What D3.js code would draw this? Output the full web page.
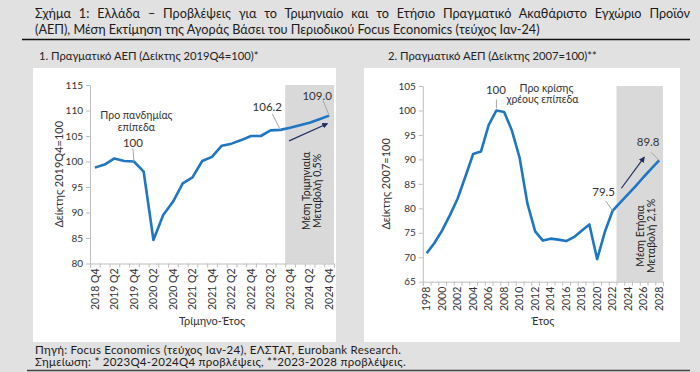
<!DOCTYPE html>
<html>
<head>
<meta charset="utf-8">
<script src="https://cdn.jsdelivr.net/npm/d3@7"></script>
<style>
  html, body { margin: 0; padding: 0; background: #e1e1e1; }
  svg { display: block; font-family: Lato, "Noto Sans", sans-serif; }
</style>
</head>
<body>
<div id="chart"></div>
<script>
// quarterly real GDP, index 2019Q4=100 (2023Q4-2024Q4 forecasts)
const quarters = ["2018 Q4", "2019 Q1", "2019 Q2", "2019 Q3", "2019 Q4", "2020 Q1", "2020 Q2", "2020 Q3",
  "2020 Q4", "2021 Q1", "2021 Q2", "2021 Q3", "2021 Q4", "2022 Q1", "2022 Q2", "2022 Q3", "2022 Q4",
  "2023 Q1", "2023 Q2", "2023 Q3", "2023 Q4", "2024 Q1", "2024 Q2", "2024 Q3", "2024 Q4"];
const quarterlyGdp = [98.8, 99.4, 100.6, 100.1, 100.0, 98.0, 84.6, 89.5, 92.1, 95.7, 96.9, 100.1, 100.9,
  103.1, 103.5, 104.2, 105.0, 105.0, 106.1, 106.2, 106.6, 107.1, 107.6, 108.3, 109.0];
const quarterTicks = [80, 85, 90, 95, 100, 105, 110, 115];

// annual real GDP, index 2007=100 (2023-2028 forecasts)
const years = ["1998", "1999", "2000", "2001", "2002", "2003", "2004", "2005", "2006", "2007", "2008",
  "2009", "2010", "2011", "2012", "2013", "2014", "2015", "2016", "2017", "2018", "2019", "2020",
  "2021", "2022", "2023", "2024", "2025", "2026", "2027", "2028"];
const annualGdp = [70.8, 72.9, 75.5, 78.6, 82.0, 86.5, 91.1, 91.6, 97.0, 100.0, 99.7, 95.9, 90.3, 81.0,
  75.3, 73.4, 73.8, 73.6, 73.3, 74.1, 75.4, 76.7, 69.6, 75.2, 79.5, 81.2, 82.9, 84.6, 86.4, 88.1, 89.8];
const yearTicks = [65, 70, 75, 80, 85, 90, 95, 100, 105];

const titleLines = [
  "Σχήμα 1: Ελλάδα – Προβλέψεις για το Τριμηνιαίο και το Ετήσιο Πραγματικό Ακαθάριστο Εγχώριο Προϊόν",
  "(ΑΕΠ), Μέση Εκτίμηση της Αγοράς Βάσει του Περιοδικού Focus Economics (τεύχος Ιαν-24)"
];
const notes = [
  "Πηγή: Focus Economics (τεύχος Ιαν-24), ΕΛΣΤΑΤ, Eurobank Research.",
  "Σημείωση: * 2023Q4-2024Q4 προβλέψεις, **2023-2028 προβλέψεις."
];

const lineColor = "#1f77c4";
const arrowColor = "#1f2f5f";
const leaderColor = "#a6a6a6";
const textColor = "#333";

const svg = d3.select("#chart").append("svg")
  .attr("width", 700)
  .attr("height", 372);

svg.append("rect").attr("width", 700).attr("height", 372).attr("fill", "#e1e1e1");

const defs = svg.append("defs");
defs.append("marker")
  .attr("id", "head")
  .attr("viewBox", "0 0 10 10")
  .attr("refX", 8).attr("refY", 5)
  .attr("markerWidth", 5).attr("markerHeight", 5)
  .attr("orient", "auto")
  .append("path")
  .attr("d", "M0,0 L10,5 L0,10 z")
  .attr("fill", arrowColor);

// title: second line sets the size, first line is justified to the full width
const t2 = svg.append("text")
  .attr("x", 35).attr("y", 34)
  .attr("font-size", 13).attr("fill", "#1a1a1a")
  .text(titleLines[1]);
const titleSize = 13 * 505 / t2.node().getComputedTextLength();
t2.attr("font-size", titleSize);
const t1 = svg.append("text")
  .attr("x", 35).attr("y", 18)
  .attr("font-size", titleSize).attr("fill", "#1a1a1a")
  .text(titleLines[0]);
const gaps = titleLines[0].split(" ").length - 1;
t1.style("word-spacing", ((655 - t1.node().getComputedTextLength()) / gaps) + "px");
svg.append("line")
  .attr("x1", 22).attr("x2", 690).attr("y1", 39.5).attr("y2", 39.5)
  .attr("stroke", "#111").attr("stroke-width", 1.4);

// notes
notes.forEach((n, i) => {
  svg.append("text")
    .attr("x", 35).attr("y", 354 + i * 12)
    .attr("font-size", 11.5).attr("fill", "#1a1a1a")
    .style("letter-spacing", "0.25px")
    .text(n);
});
svg.append("line")
  .attr("x1", 27).attr("x2", 690).attr("y1", 370.5).attr("y2", 370.5)
  .attr("stroke", "#444").attr("stroke-width", 1.5);

function drawChart(cfg) {
  const g = svg.append("g");

  g.append("text")
    .attr("x", cfg.subX).attr("y", 60)
    .attr("font-size", 11.2).attr("fill", "#222")
    .text(cfg.subtitle);

  g.append("rect")
    .attr("x", cfg.panel[0]).attr("y", 68)
    .attr("width", cfg.panel[1] - cfg.panel[0]).attr("height", 274)
    .attr("fill", "#fff");

  const x = d3.scaleBand()
    .domain(cfg.labels)
    .range([cfg.left, cfg.right])
    .padding(0);

  const y = d3.scaleLinear()
    .domain(d3.extent(cfg.ticks))
    .range([cfg.bottom, cfg.top]);

  const cx = d => x(d) + x.bandwidth() / 2;

  // forecast shading
  g.append("rect")
    .attr("x", x(cfg.shadeFrom))
    .attr("y", y(cfg.ticks[cfg.ticks.length - 1]))
    .attr("width", cfg.right - x(cfg.shadeFrom))
    .attr("height", y(cfg.ticks[0]) - y(cfg.ticks[cfg.ticks.length - 1]))
    .attr("fill", "#d9d9d9");

  // y axis
  const yAxis = g.append("g")
    .attr("transform", `translate(${cfg.left},0)`)
    .call(d3.axisLeft(y).tickValues(cfg.ticks).tickSize(4).tickSizeOuter(0).tickPadding(3));
  yAxis.selectAll("line, path").attr("stroke", "#bfbfbf");
  yAxis.selectAll("text").attr("font-size", 10).attr("fill", textColor)
    .attr("font-family", "Lato, sans-serif");

  // x axis: tick marks on category boundaries
  const xb = d3.scaleLinear().domain([0, cfg.labels.length]).range([cfg.left, cfg.right]);
  const xTicks = g.append("g")
    .attr("transform", `translate(0,${cfg.bottom})`)
    .call(d3.axisBottom(xb).tickValues(d3.range(0, cfg.labels.length + 1)).tickSize(4).tickFormat(""));
  xTicks.selectAll("line, path").attr("stroke", "#bfbfbf");

  const xAxis = g.append("g")
    .attr("transform", `translate(0,${cfg.bottom})`)
    .call(d3.axisBottom(x).tickValues(cfg.labels.filter((d, i) => i % 2 === 0)).tickSize(0));
  xAxis.select(".domain").remove();
  xAxis.selectAll("text")
    .attr("transform", "rotate(-90)")
    .attr("x", -5).attr("y", 0).attr("dy", "0.35em")
    .style("text-anchor", "end")
    .attr("font-size", 10.5).attr("fill", textColor)
    .attr("font-family", "Lato, sans-serif");

  // axis titles
  g.append("text")
    .attr("x", (cfg.left + cfg.right) / 2).attr("y", 325)
    .attr("text-anchor", "middle")
    .attr("font-size", 11).attr("fill", textColor)
    .text(cfg.xTitle);
  g.append("text")
    .attr("transform", `translate(${cfg.yTitleX},${(cfg.top + cfg.bottom) / 2}) rotate(-90)`)
    .attr("text-anchor", "middle").attr("dy", "0.35em")
    .attr("font-size", 11).attr("fill", textColor)
    .text(cfg.yTitle);

  // series
  g.append("path")
    .datum(cfg.values)
    .attr("fill", "none")
    .attr("stroke", lineColor)
    .attr("stroke-width", 2.6)
    .attr("stroke-linejoin", "round")
    .attr("d", d3.line().x((d, i) => cx(cfg.labels[i])).y(d => y(d)));

  return { g, x, y, cx };
}

function leader(g, x1, y1, x2, y2) {
  g.append("line")
    .attr("x1", x1).attr("y1", y1).attr("x2", x2).attr("y2", y2)
    .attr("stroke", leaderColor).attr("stroke-width", 1);
}

function label(g, x, y, txt, size) {
  g.append("text")
    .attr("x", x).attr("y", y).attr("dy", "0.35em")
    .attr("text-anchor", "middle")
    .attr("font-size", size).attr("fill", textColor)
    .text(txt);
}

function arrow(g, x1, y1, x2, y2) {
  g.append("line")
    .attr("x1", x1).attr("y1", y1).attr("x2", x2).attr("y2", y2)
    .attr("stroke", arrowColor).attr("stroke-width", 1.2)
    .attr("marker-end", "url(#head)");
}

function rotatedNote(g, x, y, lines) {
  const t = g.append("text")
    .attr("transform", `translate(${x},${y}) rotate(-90)`)
    .attr("text-anchor", "middle")
    .attr("font-size", 10.5).attr("fill", "#222");
  lines.forEach((l, i) => {
    t.append("tspan").attr("x", 0).attr("dy", i === 0 ? "-0.15em" : "1.1em").text(l);
  });
}

// chart 1
const c1 = drawChart({
  panel: [33, 336],
  subtitle: "1. Πραγματικό ΑΕΠ (Δείκτης 2019Q4=100)*",
  subX: 39,
  labels: quarters,
  values: quarterlyGdp,
  ticks: quarterTicks,
  left: 90, right: 334, top: 85, bottom: 263.5,
  shadeFrom: "2023 Q4",
  xTitle: "Τρίμηνο-Έτος",
  yTitle: "Δείκτης 2019Q4=100",
  yTitleX: 59
});

{
  const p = [c1.cx("2019 Q4"), c1.y(quarterlyGdp[4])];
  leader(c1.g, p[0] - 1, p[1] - 13, p[0], p[1]);
  label(c1.g, p[0] - 1, p[1] - 19, "100", 11.5);
  label(c1.g, p[0] + 2.5, p[1] - 46, "Προ πανδημίας", 10.5);
  label(c1.g, p[0] + 2.5, p[1] - 34, "επίπεδα", 10.5);

  const q = [c1.cx("2023 Q3"), c1.y(quarterlyGdp[19])];
  leader(c1.g, q[0] - 8, q[1] - 16, q[0], q[1]);
  label(c1.g, q[0] - 13, q[1] - 22.5, "106.2", 11.5);

  const r = [c1.cx("2024 Q4"), c1.y(quarterlyGdp[24])];
  leader(c1.g, r[0] - 6, r[1] - 15, r[0], r[1]);
  label(c1.g, r[0] - 12, r[1] - 19.5, "109.0", 11.5);

  arrow(c1.g, c1.cx("2023 Q4") - 1, c1.y(106.2) + 11, c1.cx("2024 Q4") - 2, c1.y(107.8) + 2);
  rotatedNote(c1.g, 311.5, 191, ["Μέση Τριμηνιαία", "Μεταβολή 0,5%"]);
}

// chart 2
const c2 = drawChart({
  panel: [364, 680],
  subtitle: "2. Πραγματικό ΑΕΠ (Δείκτης 2007=100)**",
  subX: 388,
  labels: years,
  values: annualGdp,
  ticks: yearTicks,
  left: 422.8, right: 663, top: 86, bottom: 281.7,
  shadeFrom: "2023",
  xTitle: "Έτος",
  yTitle: "Δείκτης 2007=100",
  yTitleX: 386
});

{
  const p = [c2.cx("2007"), c2.y(annualGdp[9])];
  leader(c2.g, p[0], p[1] - 11, p[0], p[1] - 2);
  label(c2.g, p[0] - 0.5, p[1] - 20, "100", 11.5);
  label(c2.g, p[0] + 50, p[1] - 22.5, "Προ κρίσης", 10.5);
  label(c2.g, p[0] + 46, p[1] - 11, "χρέους επίπεδα", 10.5);

  const q = [c2.cx("2022"), c2.y(annualGdp[24])];
  leader(c2.g, q[0] - 7, q[1] - 10, q[0], q[1]);
  label(c2.g, q[0] - 9, q[1] - 18.5, "79.5", 11.5);

  const r = [c2.cx("2028"), c2.y(annualGdp[30])];
  leader(c2.g, r[0] - 8, r[1] - 8, r[0], r[1]);
  label(c2.g, r[0] - 11, r[1] - 18.5, "89.8", 11.5);

  arrow(c2.g, c2.cx("2023") + 1, c2.y(84.1), c2.cx("2026") + 0.5, c2.y(90.4));
  rotatedNote(c2.g, 645.5, 236, ["Μέση Ετήσια", "Μεταβολή 2,1%"]);
}
</script>
</body>
</html>
